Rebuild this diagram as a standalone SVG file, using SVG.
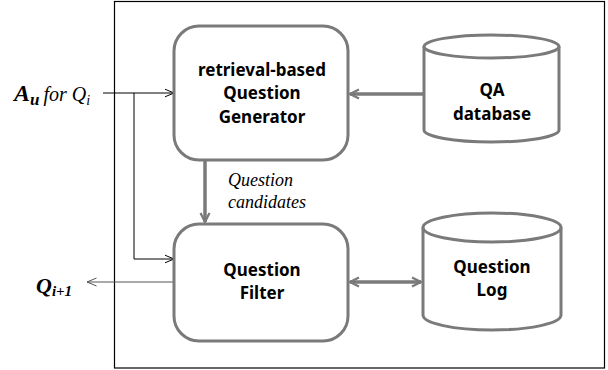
<svg xmlns="http://www.w3.org/2000/svg" width="608" height="370" viewBox="0 0 608 370">
<style>
.box{fill:#fff;stroke:#7a7a7a;stroke-width:3}
.lbl{font-family:"Noto Sans","Liberation Sans",sans-serif;font-weight:bold;font-size:17px;fill:#000;text-anchor:middle}
.thick{fill:none;stroke:#7a7a7a;stroke-width:3.5}
.thin{fill:none;stroke:#000;stroke-width:1}
.serif{font-family:"Liberation Serif","DejaVu Serif",serif;font-style:italic}
</style>
<defs>
<marker id="ah" viewBox="0 0 10 10" refX="9" refY="5" markerWidth="3.2" markerHeight="3.2" orient="auto-start-reverse" markerUnits="strokeWidth">
<path d="M1,1 L9,5 L1,9" fill="none" stroke="#7a7a7a" stroke-width="2"/>
</marker>
<marker id="th" viewBox="0 0 10 10" refX="9.5" refY="5" markerWidth="10" markerHeight="10" orient="auto" markerUnits="userSpaceOnUse">
<path d="M0,1 L9.5,5 L0,9" fill="none" stroke="#000" stroke-width="1"/>
</marker>
<marker id="thg" viewBox="0 0 10 10" refX="9.5" refY="5" markerWidth="10" markerHeight="10" orient="auto" markerUnits="userSpaceOnUse">
<path d="M0,1 L9.5,5 L0,9" fill="none" stroke="#555" stroke-width="1"/>
</marker>
</defs>
<rect x="114.5" y="1.5" width="490" height="366.5" fill="none" stroke="#000" stroke-width="1.2"/>
<g id="connectors">
<line class="thick" x1="423" y1="94" x2="350" y2="94" marker-end="url(#ah)"/>
<line class="thick" x1="205" y1="161" x2="205" y2="222" marker-end="url(#ah)"/>
<line class="thick" x1="350" y1="282" x2="421" y2="282" marker-start="url(#ah)" marker-end="url(#ah)"/>
<line class="thin" x1="103" y1="93" x2="174" y2="93" marker-end="url(#th)"/>
<polyline class="thin" points="134,93 134,259 174,259" marker-end="url(#th)"/>
<line x1="174" y1="282" x2="87" y2="282" stroke="#555" stroke-width="1" marker-end="url(#thg)"/>
</g>
<g id="generator">
<rect class="box" x="174" y="26" width="174" height="134" rx="25"/>
<text class="lbl" x="262" y="76">retrieval-based</text>
<text class="lbl" x="262" y="99">Question</text>
<text class="lbl" x="262" y="123">Generator</text>
</g>
<g id="qa-database">
<path class="box" d="M424,46.5 V130 A67.5,12 0 0 0 559,130 V46.5 A67.5,11.5 0 0 0 424,46.5 Z"/>
<path d="M424,46.5 A67.5,11.5 0 0 0 559,46.5" fill="none" stroke="#7a7a7a" stroke-width="3"/>
<text class="lbl" x="492" y="96">QA</text>
<text class="lbl" x="492" y="120">database</text>
</g>
<g id="filter">
<rect class="box" x="174" y="224" width="174" height="117" rx="25"/>
<text class="lbl" x="262" y="276">Question</text>
<text class="lbl" x="262" y="299">Filter</text>
</g>
<g id="question-log">
<path class="box" d="M423,227.5 V315 A69,15 0 0 0 561,315 V227.5 A69,14.5 0 0 0 423,227.5 Z"/>
<path d="M423,227.5 A69,14.5 0 0 0 561,227.5" fill="none" stroke="#7a7a7a" stroke-width="3"/>
<text class="lbl" x="492" y="273">Question</text>
<text class="lbl" x="492" y="296">Log</text>
</g>
<g id="labels">
<text class="serif" x="14" y="101" font-size="20"><tspan font-weight="bold" font-size="24">A</tspan><tspan font-weight="bold" font-size="17" dy="4">u</tspan><tspan dy="-4" dx="4">for Q</tspan><tspan font-size="14" dy="4">i</tspan></text>
<text class="serif" x="36" y="293" font-weight="bold"><tspan font-size="22">Q</tspan><tspan font-size="15" dy="3">i+1</tspan></text>
<text class="serif" x="228" y="186" font-size="18">Question</text>
<text class="serif" x="228" y="208" font-size="18">candidates</text>
</g>
</svg>
